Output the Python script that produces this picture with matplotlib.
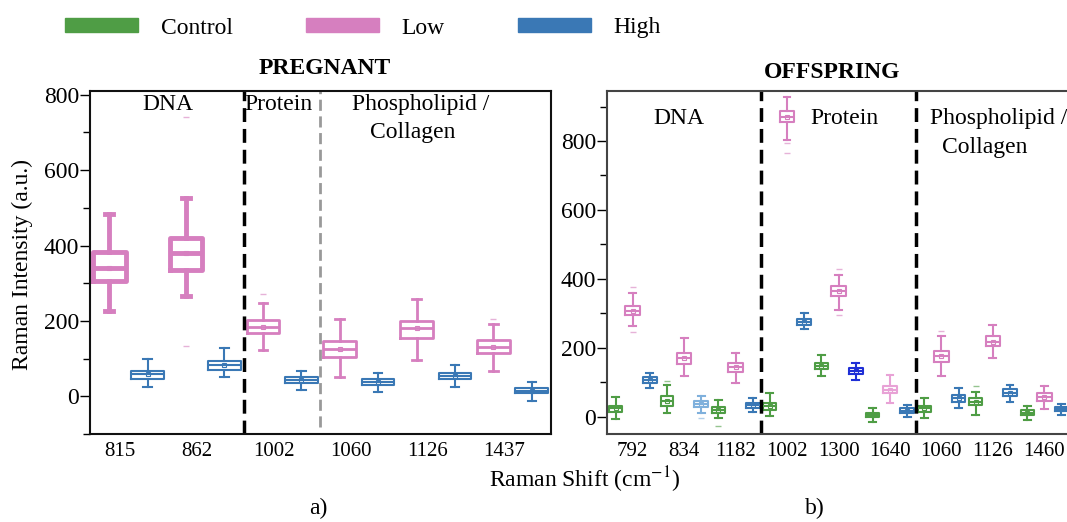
import matplotlib.pyplot as plt
from matplotlib.patches import Patch
from matplotlib.ticker import MultipleLocator

plt.rcParams['font.family'] = ['Liberation Serif', 'DejaVu Serif']
plt.rcParams['mathtext.fontset'] = 'stix'

# box stats: (whislo, q1, median, q3, whishi)
preg_cats = ['815', '862', '1002', '1060', '1126', '1437']
preg_low = [(226, 305, 340, 384, 484), (266, 334, 379, 421, 526), (124, 168, 184, 203, 247),
            (50, 105, 126, 147, 205), (97, 155, 182, 200, 258), (68, 116, 132, 150, 192)]
preg_low_fliers = [[], [742, 134], [271], [], [], [206]]
preg_high = [(24, 47, 60, 68, 100), (50, 71, 84, 95, 129), (16, 34, 42, 50, 66),
             (11, 29, 38, 45, 63), (26, 45, 53, 63, 84), (-13, 8, 14, 21, 37)]

off_cats = ['792', '834', '1182', '1002', '1300', '1640', '1060', '1126', '1460']
off_control = [(-6, 15, 24, 32, 56), (11, 32, 45, 59, 93), (-5, 12, 20, 27, 49),
               (1, 20, 32, 41, 69), (117, 138, 148, 157, 180), (-14, -1, 5, 11, 25),
               (-4, 15, 24, 32, 54), (6, 35, 44, 54, 73), (-9, 6, 12, 20, 32)]
off_control_fliers = [[], [104], [-26], [], [], [], [], [90], []]
off_low = [(262, 294, 307, 320, 359), (117, 154, 170, 186, 228), (98, 131, 144, 156, 185),
           (803, 854, 871, 888, 929), (310, 351, 365, 378, 412), (40, 69, 79, 90, 122),
           (119, 160, 177, 192, 233), (170, 204, 218, 233, 267), (22, 47, 58, 69, 90)]
off_low_fliers = [[377, 246], [], [], [793, 764], [428, 296], [], [250], [], []]
off_high = [(83, 98, 106, 114, 128), (11, 28, 38, 47, 61), (15, 25, 34, 41, 54),
            (254, 267, 274, 283, 301), (107, 125, 133, 141, 156), (-1, 11, 17, 25, 35),
            (25, 44, 54, 64, 83), (44, 61, 70, 80, 93), (6, 17, 23, 29, 38)]
off_high_fliers = [[], [-5], [], [], [], [], [], [], []]

GREEN = '#4f9d45'
PINK = '#d67fbf'
BLUE = '#3a78b5'


def make_stat(v, fl):
    lo, q1, med, q3, hi = v
    return dict(whislo=lo, q1=q1, med=med, q3=q3, whishi=hi, fliers=fl, mean=med)


def draw_box(ax, v, fl, pos, color, lw, width, capw):
    ax.bxp([make_stat(v, fl)], positions=[pos], widths=width, capwidths=capw,
           showmeans=True, manage_ticks=False,
           boxprops=dict(color=color, lw=lw),
           whiskerprops=dict(color=color, lw=lw),
           capprops=dict(color=color, lw=lw),
           medianprops=dict(color=color, lw=lw),
           meanprops=dict(marker='s', ms=3, mfc='none', mec=color, mew=0.8),
           flierprops=dict(marker='_', ms=5, mec=color, alpha=0.6))


fig = plt.figure(figsize=(10.67, 5.22), dpi=100)
W, H = 1067, 522
ax1 = fig.add_axes([90 / W, 1 - 434 / H, 461 / W, 343 / H])
ax2 = fig.add_axes([607 / W, 1 - 434 / H, 463 / W, 343 / H])

# pregnant panel
for i in range(len(preg_cats)):
    lw = 3.5 if i < 2 else 2
    draw_box(ax1, preg_low[i], preg_low_fliers[i], 1 + 2 * i, PINK, lw, 0.85, 0.22)
    draw_box(ax1, preg_high[i], [], 2 + 2 * i, BLUE, 1.5, 0.85, 0.22)
ax1.set_xlim(0.5, 12.5)
ax1.set_ylim(-100, 810)
ax1.set_xticks([1.28 + 2 * i for i in range(len(preg_cats))])
ax1.set_xticklabels(preg_cats, fontsize=15)
ax1.axvline(4.5, color='black', ls=(0, (4, 2)), lw=2.5)
ax1.axvline(6.5, color='#999999', ls=(0, (4, 2)), lw=2, ymin=0.02)
ax1.text(0.169, 0.962, 'DNA', transform=ax1.transAxes, ha='center', va='center', fontsize=17)
ax1.text(0.408, 0.962, 'Protein', transform=ax1.transAxes, ha='center', va='center', fontsize=17)
ax1.text(0.718, 0.962, 'Phospholipid /', transform=ax1.transAxes, ha='center', va='center', fontsize=17)
ax1.text(0.70, 0.878, 'Collagen', transform=ax1.transAxes, ha='center', va='center', fontsize=17)

# offspring panel
high_colors = [BLUE, '#7fb0dc', BLUE, BLUE, '#1f2fd6', BLUE, BLUE, BLUE, BLUE]
low_colors = [PINK, PINK, PINK, PINK, PINK, '#e8a2d6', PINK, PINK, PINK]
for j in range(len(off_cats)):
    draw_box(ax2, off_control[j], off_control_fliers[j], 1 + 3 * j, GREEN, 1.5, 0.75, 0.4)
    draw_box(ax2, off_low[j], off_low_fliers[j], 2 + 3 * j, low_colors[j], 1.5, 0.85, 0.4)
    draw_box(ax2, off_high[j], off_high_fliers[j], 3 + 3 * j, high_colors[j], 1.5, 0.8, 0.4)
ax2.set_xlim(0.5, 27.5)
ax2.set_ylim(-50, 945)
ax2.set_xticks([2 + 3 * j for j in range(len(off_cats))])
ax2.set_xticklabels(off_cats, fontsize=15)
ax2.axvline(9.5, color='black', ls=(0, (4, 2)), lw=2.5)
ax2.axvline(18.5, color='black', ls=(0, (4, 2)), lw=2.5)
ax2.text(0.156, 0.921, 'DNA', transform=ax2.transAxes, ha='center', va='center', fontsize=17)
ax2.text(0.512, 0.921, 'Protein', transform=ax2.transAxes, ha='center', va='center', fontsize=17)
ax2.text(0.698, 0.921, 'Phospholipid /', transform=ax2.transAxes, ha='left', va='center', fontsize=17)
ax2.text(0.816, 0.834, 'Collagen', transform=ax2.transAxes, ha='center', va='center', fontsize=17)

for ax, spc in ((ax1, '#111111'), (ax2, '#444444')):
    ax.yaxis.set_major_locator(MultipleLocator(200))
    ax.yaxis.set_minor_locator(MultipleLocator(100))
    ax.tick_params(axis='y', which='major', labelsize=17, length=7, width=1, pad=1)
    ax.tick_params(axis='y', which='minor', length=5, width=1)
    ax.tick_params(axis='x', length=0, pad=6)
    for s in ax.spines.values():
        s.set_color(spc)
        s.set_linewidth(1.5)

handles = [Patch(color=GREEN), Patch(color=PINK), Patch(color=BLUE)]
fig.legend(handles, ['Control', 'Low', 'High'], loc='center left',
           bbox_to_anchor=(65 / W, 1 - 28 / H), ncol=3, frameon=False, fontsize=17,
           borderpad=0, borderaxespad=0, handlelength=3.1, handleheight=0.55,
           handletextpad=0.95, columnspacing=3.1)

fig.text(325 / W, 1 - 68 / H, 'PREGNANT', ha='center', va='center', fontsize=17, fontweight='bold')
fig.text(832 / W, 1 - 72 / H, 'OFFSPRING', ha='center', va='center', fontsize=17, fontweight='bold')
fig.text(22 / W, 1 - 265 / H, 'Raman Intensity (a.u.)', rotation=90, ha='center', va='center', fontsize=17)
fig.text(585 / W, 1 - 480 / H, 'Raman Shift (cm$^{-1}$)', ha='center', va='center', fontsize=17)
fig.text(318 / W, 1 - 508 / H, 'a)', ha='center', va='center', fontsize=17)
fig.text(815 / W, 1 - 508 / H, 'b)', ha='center', va='center', fontsize=17)

fig.savefig('out.png', dpi=100)
